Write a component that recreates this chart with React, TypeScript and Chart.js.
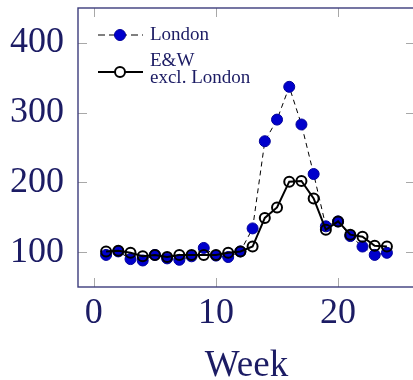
import React, { useEffect, useRef } from "react";
import { Chart, registerables } from "chart.js";

Chart.register(...registerables);

const weeks = [1, 2, 3, 4, 5, 6, 7, 8, 9, 10, 11, 12, 13, 14, 15, 16, 17, 18, 19, 20, 21, 22, 23, 24];
const londonValues = [96, 101, 90, 88, 96, 91, 89, 94, 106, 95, 93, 101, 134, 259, 290, 337, 283, 212, 137, 144, 123, 108, 96, 99];
const ewValues = [101, 102, 99, 94, 96, 93, 96, 96, 96, 96, 99, 101, 108, 149, 164, 201, 202, 177, 132, 144, 125, 122, 109, 108];
const londonLabel = ["London"];
const ewLabel = ["E&W", "excl. London"];
const xTickValues = [0, 10, 20];
const yTickValues = [100, 200, 300, 400];
const xTitle = "Week";

const TEXT = "#1c1c64";
const FONT = "'Liberation Serif', 'DejaVu Serif', serif";

const framePlugin = {
  id: "frame",
  afterDraw(chart: any) {
    const { ctx, chartArea: a, scales } = chart;
    ctx.save();
    // inward tick marks
    ctx.strokeStyle = "#a8a8a8";
    ctx.lineWidth = 1;
    const tl = 9;
    xTickValues.forEach((v) => {
      const px = Math.round(scales.x.getPixelForValue(v)) + 0.5;
      ctx.beginPath();
      ctx.moveTo(px, a.bottom);
      ctx.lineTo(px, a.bottom - tl);
      ctx.moveTo(px, a.top);
      ctx.lineTo(px, a.top + tl);
      ctx.stroke();
    });
    yTickValues.forEach((v) => {
      const py = Math.round(scales.y.getPixelForValue(v)) + 0.5;
      ctx.beginPath();
      ctx.moveTo(a.left, py);
      ctx.lineTo(a.left + tl, py);
      ctx.moveTo(a.right, py);
      ctx.lineTo(a.right - tl, py);
      ctx.stroke();
    });
    // frame
    ctx.strokeStyle = "#3c3c7c";
    ctx.lineWidth = 1.4;
    ctx.strokeRect(a.left, a.top, a.right - a.left, a.bottom - a.top);

    // legend
    const ds = chart.data.datasets;
    const x0 = a.left + 20;
    const x1 = a.left + 65;
    const xc = a.left + 42;
    const xt = a.left + 72;
    ctx.font = "19px " + FONT;
    ctx.fillStyle = TEXT;
    ctx.textBaseline = "alphabetic";
    ctx.textAlign = "left";
    // London entry
    const lon = ds[1];
    const y1 = a.top + 27;
    ctx.strokeStyle = "#000";
    ctx.lineWidth = 1;
    ctx.setLineDash([7, 4]);
    ctx.beginPath();
    ctx.moveTo(x0, y1);
    ctx.lineTo(x1, y1);
    ctx.stroke();
    ctx.setLineDash([]);
    ctx.beginPath();
    ctx.arc(xc, y1, 5.5, 0, Math.PI * 2);
    ctx.fillStyle = lon.pointBackgroundColor;
    ctx.fill();
    ctx.strokeStyle = lon.pointBorderColor;
    ctx.stroke();
    ctx.fillStyle = TEXT;
    londonLabel.forEach((t, i) => ctx.fillText(t, xt, y1 + 5 + i * 17));
    // E&W entry
    const ew = ds[0];
    const y2 = a.top + 64;
    ctx.strokeStyle = "#000";
    ctx.lineWidth = 2;
    ctx.beginPath();
    ctx.moveTo(x0, y2);
    ctx.lineTo(x1, y2);
    ctx.stroke();
    ctx.beginPath();
    ctx.arc(xc, y2, 5, 0, Math.PI * 2);
    ctx.fillStyle = "#fff";
    ctx.fill();
    ctx.strokeStyle = ew.pointBorderColor;
    ctx.stroke();
    ctx.fillStyle = TEXT;
    ewLabel.forEach((t, i) => ctx.fillText(t, xt, a.top + 58 + i * 17));
    ctx.restore();
  },
};

export default function App() {
  const ref = useRef<HTMLCanvasElement | null>(null);
  useEffect(() => {
    document.body.style.margin = "0";
    document.body.style.overflow = "hidden";
    const chart = new Chart(ref.current as HTMLCanvasElement, {
      type: "line",
      data: {
        datasets: [
          {
            label: ewLabel.join(" "),
            data: weeks.map((w, i) => ({ x: w, y: ewValues[i] })),
            borderColor: "#000",
            borderWidth: 2,
            pointRadius: 5,
            pointBorderWidth: 2,
            pointBackgroundColor: "rgba(0,0,0,0)",
            pointBorderColor: "#000",
            tension: 0,
            order: 0,
          },
          {
            label: londonLabel.join(" "),
            data: weeks.map((w, i) => ({ x: w, y: londonValues[i] })),
            borderColor: "#000",
            borderWidth: 1,
            borderDash: [5, 4],
            pointRadius: 5.5,
            pointBorderWidth: 1,
            pointBackgroundColor: "#0000cc",
            pointBorderColor: "#00009a",
            tension: 0,
            order: 1,
          },
        ],
      },
      options: {
        responsive: false,
        animation: false,
        layout: { autoPadding: false, padding: { top: 8, right: 5, left: 0, bottom: 0 } },
        plugins: { legend: { display: false }, tooltip: { enabled: false } },
        scales: {
          x: {
            type: "linear",
            min: -1.3,
            max: 26.3,
            afterBuildTicks: (s: any) => {
              s.ticks = xTickValues.map((v) => ({ value: v }));
            },
            afterFit: (s: any) => {
              s.height = 93;
              s.paddingLeft = 0;
              s.paddingRight = 0;
            },
            grid: { display: false, drawTicks: false },
            border: { display: false },
            ticks: {
              padding: 5,
              color: TEXT,
              font: { family: FONT, size: 36 },
              maxRotation: 0,
            },
            title: {
              display: true,
              text: xTitle,
              color: TEXT,
              font: { family: FONT, size: 37, lineHeight: 0.75 },
              padding: { top: 0, bottom: 0 },
            },
          },
          y: {
            type: "linear",
            min: 50,
            max: 450,
            afterBuildTicks: (s: any) => {
              s.ticks = yTickValues.map((v) => ({ value: v }));
            },
            afterFit: (s: any) => {
              s.width = 78;
              s.paddingTop = 0;
              s.paddingBottom = 0;
            },
            grid: { display: false, drawTicks: false },
            border: { display: false },
            ticks: {
              padding: 14,
              color: TEXT,
              font: { family: FONT, size: 36 },
            },
          },
        },
      },
      plugins: [framePlugin],
    });
    return () => chart.destroy();
  }, []);
  return (
    <div style={{ position: "absolute", left: 0, top: 0, width: 413, height: 380, overflow: "hidden" }}>
      <canvas ref={ref} width={420} height={380} style={{ display: "block" }} />
    </div>
  );
}
